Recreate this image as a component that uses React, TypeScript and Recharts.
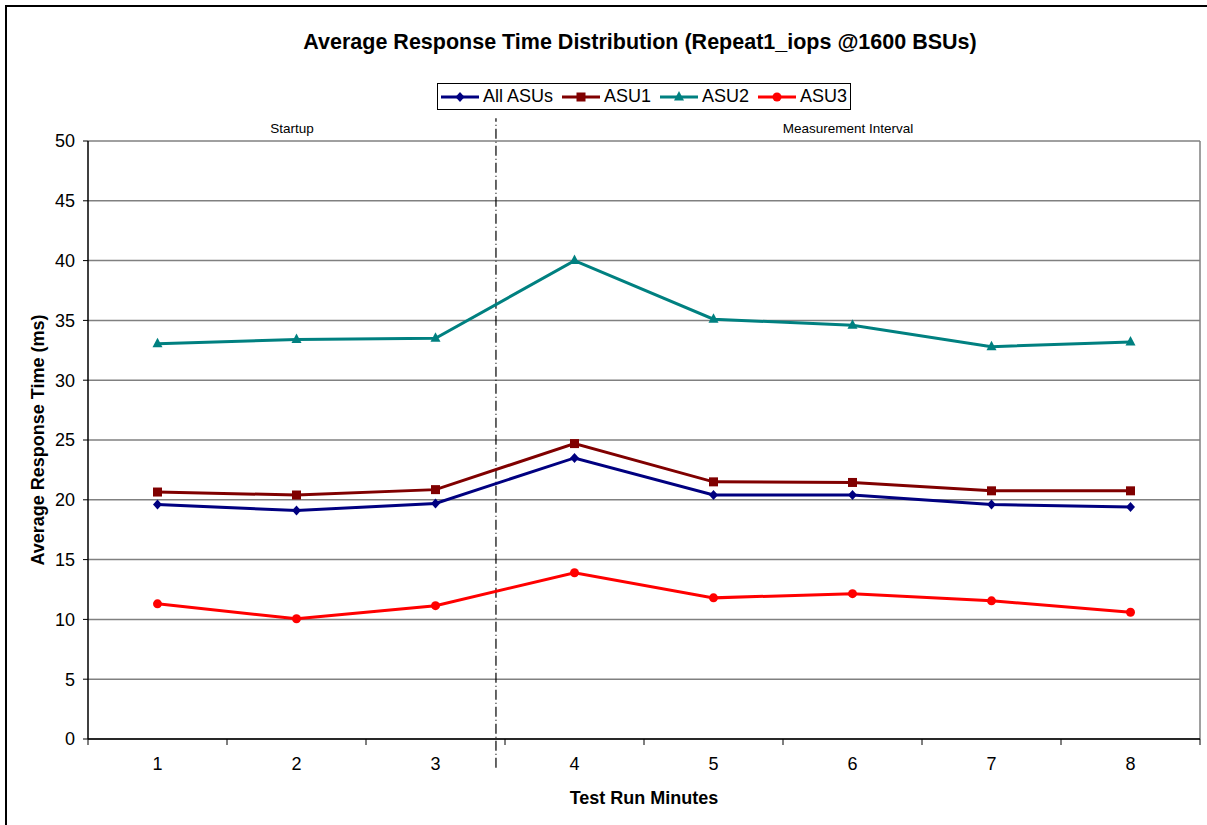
import React from "react";
import {
  ComposedChart,
  Line,
  XAxis,
  YAxis,
  CartesianGrid,
  ReferenceLine,
  ReferenceArea,
} from "recharts";

const minutes = [1, 2, 3, 4, 5, 6, 7, 8];
const allAsus = [19.6, 19.1, 19.7, 23.5, 20.4, 20.4, 19.6, 19.4];
const asu1 = [20.65, 20.4, 20.85, 24.7, 21.5, 21.45, 20.75, 20.75];
const asu2 = [33.05, 33.4, 33.5, 40.0, 35.1, 34.6, 32.8, 33.2];
const asu3 = [11.3, 10.05, 11.15, 13.9, 11.8, 12.15, 11.55, 10.6];

const yTicks = [0, 5, 10, 15, 20, 25, 30, 35, 40, 45, 50];
// labels sit on whole minutes, tick marks on the half-minute boundaries
const xTicks = [0.5, 1, 1.5, 2, 2.5, 3, 3.5, 4, 4.5, 5, 5.5, 6, 6.5, 7, 7.5, 8, 8.5];
const startupEnd = 3.435;

const FONT = '"Liberation Sans", Arial, Helvetica, sans-serif';

type Shape = "diamond" | "square" | "triangle" | "circle";

const series: { key: string; name: string; color: string; shape: Shape }[] = [
  { key: "all", name: "All ASUs", color: "#000080", shape: "diamond" },
  { key: "asu1", name: "ASU1", color: "#800000", shape: "square" },
  { key: "asu2", name: "ASU2", color: "#008080", shape: "triangle" },
  { key: "asu3", name: "ASU3", color: "#FF0000", shape: "circle" },
];

const data = minutes.map((m, i) => ({
  minute: m,
  all: allAsus[i],
  asu1: asu1[i],
  asu2: asu2[i],
  asu3: asu3[i],
}));

function marker(shape: Shape, cx: number, cy: number, color: string, key?: string) {
  switch (shape) {
    case "diamond":
      return (
        <polygon
          key={key}
          points={`${cx},${cy - 5} ${cx + 4.5},${cy} ${cx},${cy + 5} ${cx - 4.5},${cy}`}
          fill={color}
        />
      );
    case "square":
      return <rect key={key} x={cx - 4.5} y={cy - 4.5} width={9} height={9} fill={color} />;
    case "triangle":
      return (
        <polygon
          key={key}
          points={`${cx},${cy - 6} ${cx + 5},${cy + 3.5} ${cx - 5},${cy + 3.5}`}
          fill={color}
        />
      );
    default:
      return <circle key={key} cx={cx} cy={cy} r={4.5} fill={color} />;
  }
}

const makeDot = (shape: Shape, color: string) => (props: any) => {
  const { cx, cy, index } = props;
  if (cx == null || cy == null) return <g key={`d-${index}`} />;
  return marker(shape, cx, cy, color, `d-${shape}-${index}`);
};

const XTick = (props: any) => {
  const { x, y, payload } = props;
  const v = payload.value as number;
  if (Number.isInteger(v)) {
    return (
      <text x={x} y={y + 31} textAnchor="middle" fontSize={18} fontFamily={FONT} fill="#000">
        {v}
      </text>
    );
  }
  return <line x1={x} y1={y} x2={x} y2={y + 6} stroke="#000" strokeWidth={1} />;
};

function Legend() {
  return (
    <div
      style={{
        position: "absolute",
        left: 437,
        top: 83,
        width: 412,
        height: 25,
        border: "1px solid #000",
        background: "#fff",
        display: "flex",
        alignItems: "center",
        justifyContent: "center",
        fontFamily: FONT,
        fontSize: 18,
      }}
    >
      {series.map((s, i) => (
        <div
          key={s.key}
          style={{ display: "flex", alignItems: "center", marginRight: i === series.length - 1 ? 0 : 9 }}
        >
          <svg width={38} height={14}>
            <line x1={0} y1={7} x2={38} y2={7} stroke={s.color} strokeWidth={3} />
            {marker(s.shape, 19, 7, s.color)}
          </svg>
          <span style={{ marginLeft: 4 }}>{s.name}</span>
        </div>
      ))}
    </div>
  );
}

export default function App() {
  return (
    <div style={{ position: "absolute", left: 0, top: 0, width: 1207, height: 825, background: "#fff" }}>
      <div
        style={{
          position: "absolute",
          left: 5,
          top: 5,
          width: 1202,
          height: 820,
          borderLeft: "2px solid #000",
          borderTop: "2px solid #000",
        }}
      />
      <ComposedChart
        width={1207}
        height={825}
        data={data}
        margin={{ top: 141, right: 7, bottom: 0, left: 0 }}
        style={{ position: "absolute", left: 0, top: 0 }}
      >
        <CartesianGrid vertical={false} stroke="#808080" strokeWidth={1.5} />
        <ReferenceLine x={8.5} stroke="#808080" strokeWidth={1.5} />
        <XAxis
          dataKey="minute"
          type="number"
          domain={[0.5, 8.5]}
          ticks={xTicks}
          interval={0}
          tick={<XTick />}
          tickLine={false}
          tickSize={0}
          tickMargin={0}
          axisLine={{ stroke: "#000", strokeWidth: 1.5 }}
          height={86}
          label={{
            content: (p: any) => {
              const vb = p.viewBox;
              return (
                <text
                  x={vb.x + vb.width / 2}
                  y={vb.y + 65}
                  textAnchor="middle"
                  fontSize={18}
                  fontWeight="bold"
                  fontFamily={FONT}
                  fill="#000"
                >
                  Test Run Minutes
                </text>
              );
            },
          }}
        />
        <YAxis
          type="number"
          domain={[0, 50]}
          ticks={yTicks}
          interval={0}
          width={88}
          tickSize={5}
          tickMargin={8}
          tickLine={{ stroke: "#000" }}
          axisLine={{ stroke: "#000", strokeWidth: 1.5 }}
          tick={{ fontSize: 18, fontFamily: FONT, fill: "#000" }}
          label={{
            content: (p: any) => {
              const vb = p.viewBox;
              const cx = vb.x + 38;
              const cy = vb.y + vb.height / 2;
              return (
                <text
                  x={cx}
                  y={cy}
                  transform={`rotate(-90 ${cx} ${cy})`}
                  textAnchor="middle"
                  dominantBaseline="central"
                  fontSize={18}
                  fontWeight="bold"
                  fontFamily={FONT}
                  fill="#000"
                >
                  Average Response Time (ms)
                </text>
              );
            },
          }}
        />
        <ReferenceArea
          x1={0.5}
          x2={startupEnd}
          y1={50}
          y2={52.2}
          ifOverflow="visible"
          fill="none"
          stroke="none"
          label={{ value: "Startup", position: "center", fontSize: 13.5, fontFamily: FONT, fill: "#000" }}
        />
        <ReferenceArea
          x1={startupEnd}
          x2={8.5}
          y1={50}
          y2={52.2}
          ifOverflow="visible"
          fill="none"
          stroke="none"
          label={{ value: "Measurement Interval", position: "center", fontSize: 13.5, fontFamily: FONT, fill: "#000" }}
        />
        <ReferenceLine
          segment={[
            { x: startupEnd, y: -2.4 },
            { x: startupEnd, y: 51.9 },
          ]}
          ifOverflow="visible"
          stroke="#000"
          strokeWidth={1.2}
          strokeDasharray="10 3 1 3"
        />
        {series.map((s) => (
          <Line
            key={s.key}
            type="linear"
            dataKey={s.key}
            name={s.name}
            stroke={s.color}
            strokeWidth={3}
            dot={makeDot(s.shape, s.color)}
            activeDot={false}
            isAnimationActive={false}
          />
        ))}
      </ComposedChart>
      <div
        style={{
          position: "absolute",
          left: 0,
          top: 30,
          width: 1280,
          textAlign: "center",
          fontFamily: FONT,
          fontSize: 21.5,
          fontWeight: "bold",
        }}
      >
        Average Response Time Distribution (Repeat1_iops @1600 BSUs)
      </div>
      <Legend />
    </div>
  );
}
